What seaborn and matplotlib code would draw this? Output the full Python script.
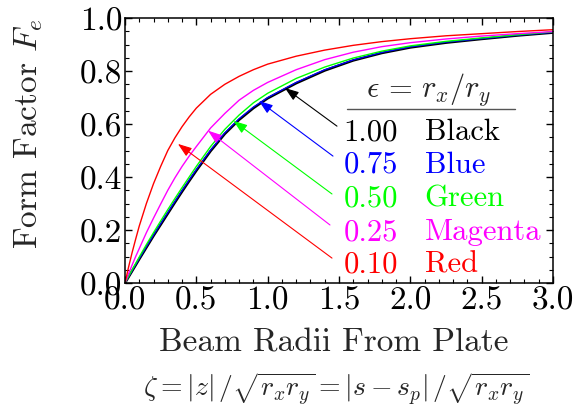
import matplotlib
matplotlib.use("Agg")
import matplotlib.pyplot as plt
import numpy as np
import pandas as pd
import seaborn as sns
from matplotlib.ticker import MultipleLocator, FormatStrFormatter

# Normalised distance from the plate (beam radii)
zeta = [0.0, 0.025, 0.05, 0.075, 0.1, 0.15, 0.2, 0.25, 0.3, 0.35, 0.4, 0.45,
        0.5, 0.6, 0.7, 0.8, 0.9, 1.0, 1.2, 1.4, 1.6, 1.8, 2.0, 2.25, 2.5,
        2.75, 3.0]

# Form factor F_e for each aspect ratio eps = r_x / r_y
f_black = [0.0, 0.0225, 0.045, 0.0675, 0.090, 0.134, 0.178, 0.220, 0.262,
           0.304, 0.345, 0.385, 0.424, 0.498, 0.563, 0.616, 0.660, 0.697,
           0.754, 0.802, 0.840, 0.868, 0.889, 0.907, 0.921, 0.934, 0.945]
f_blue = [0.0, 0.023, 0.046, 0.069, 0.092, 0.137, 0.181, 0.224, 0.266,
          0.308, 0.349, 0.389, 0.428, 0.502, 0.567, 0.620, 0.664, 0.700,
          0.757, 0.805, 0.842, 0.870, 0.891, 0.909, 0.922, 0.935, 0.946]
f_green = [0.0, 0.025, 0.050, 0.074, 0.098, 0.145, 0.190, 0.234, 0.277,
           0.319, 0.360, 0.400, 0.440, 0.515, 0.580, 0.634, 0.680, 0.716,
           0.772, 0.815, 0.849, 0.875, 0.895, 0.912, 0.925, 0.937, 0.948]
f_magenta = [0.0, 0.035, 0.068, 0.100, 0.130, 0.190, 0.245, 0.298, 0.350,
             0.397, 0.440, 0.479, 0.515, 0.585, 0.640, 0.690, 0.727, 0.757,
             0.805, 0.843, 0.871, 0.892, 0.907, 0.921, 0.932, 0.941, 0.949]
f_red = [0.0, 0.060, 0.115, 0.166, 0.215, 0.300, 0.375, 0.440, 0.500,
         0.548, 0.590, 0.627, 0.660, 0.712, 0.750, 0.780, 0.805, 0.826,
         0.856, 0.879, 0.897, 0.911, 0.922, 0.933, 0.941, 0.949, 0.956]

eps_labels = ["1.00", "0.75", "0.50", "0.25", "0.10"]
color_names = ["Black", "Blue", "Green", "Magenta", "Red"]
colors = ["#000000", "#0000ff", "#00ff00", "#ff00ff", "#ff0000"]
series = [f_black, f_blue, f_green, f_magenta, f_red]

frames = []
for lab, vals in zip(eps_labels, series):
    frames.append(pd.DataFrame({"zeta": zeta, "F": vals, "eps": lab}))
df = pd.concat(frames, ignore_index=True)

sns.set_theme(style="ticks")
plt.rcParams.update({
    "font.family": "serif",
    "font.serif": ["cmr10"],
    "mathtext.fontset": "cm",
    "axes.formatter.use_mathtext": True,
    "axes.unicode_minus": False,
})

fig = plt.figure(figsize=(5.76, 4.14), dpi=100)
ax = fig.add_axes([0.217, 0.314, 0.743, 0.640])

widths = {"1.00": 1.8, "0.75": 0.9, "0.50": 1.0, "0.25": 1.0, "0.10": 1.0}
for lab, col in zip(eps_labels, colors):
    sns.lineplot(data=df[df["eps"] == lab], x="zeta", y="F", color=col,
                 linewidth=widths[lab], ax=ax, legend=False, estimator=None)

ax.set_xlim(0, 3.0)
ax.set_ylim(0, 1.0)
ax.xaxis.set_major_locator(MultipleLocator(0.5))
ax.xaxis.set_minor_locator(MultipleLocator(0.1))
ax.yaxis.set_major_locator(MultipleLocator(0.2))
ax.yaxis.set_minor_locator(MultipleLocator(0.05))
ax.xaxis.set_major_formatter(FormatStrFormatter("%.1f"))
ax.yaxis.set_major_formatter(FormatStrFormatter("%.1f"))
ax.tick_params(which="both", direction="in", top=True, right=True,
               labelsize=24, colors="black")
ax.tick_params(which="major", length=5, width=1.0, pad=2)
ax.tick_params(which="minor", length=2.8, width=0.8)
for s in ax.spines.values():
    s.set_linewidth(1.1)
    s.set_color("black")
ax.set_xlabel("")
ax.set_ylabel("")

# Axis titles
fig.text(0.580, 1 - 343 / 414, "Beam Radii From Plate", ha="center",
         va="center", fontsize=24)
fig.text(0.584, 1 - 389 / 414,
         r"$\zeta = |z|\, / \sqrt{r_x r_y} = |s - s_p|\, / \sqrt{r_x r_y}$",
         ha="center", va="center", fontsize=20)
fig.text(29 / 576, 1 - 134 / 414, r"Form Factor $F_e$", rotation=90,
         ha="center", va="center", fontsize=24)

# Key inside the axes
ax.text(2.13, 0.707, r"$\epsilon\,{=}\,r_x/r_y$", ha="center", va="baseline",
        fontsize=22)
ax.plot([1.556, 2.733], [0.657, 0.657], color="#555555", lw=1.0)
row_y = [0.543, 0.419, 0.291, 0.166, 0.042]
for lab, name, col, yy in zip(eps_labels, color_names, colors, row_y):
    ax.text(1.53, yy, lab, color=col, ha="left", va="baseline", fontsize=22)
    ax.text(2.10, yy, name, color=col, ha="left", va="baseline", fontsize=22)

# Pointers from the key to each curve
heads = [(1.121, 0.736), (0.939, 0.687), (0.760, 0.612), (0.582, 0.575), (0.371, 0.525)]
tails = [(1.486, 0.592), (1.458, 0.479), (1.451, 0.336), (1.437, 0.219), (1.451, 0.094)]
for h, t, col in zip(heads, tails, colors):
    ax.annotate("", xy=h, xytext=t,
                arrowprops=dict(arrowstyle="-|>,head_length=0.7,head_width=0.25",
                                color=col, lw=0.8, shrinkA=0, shrinkB=0))

fig.savefig("out.png", dpi=100)
